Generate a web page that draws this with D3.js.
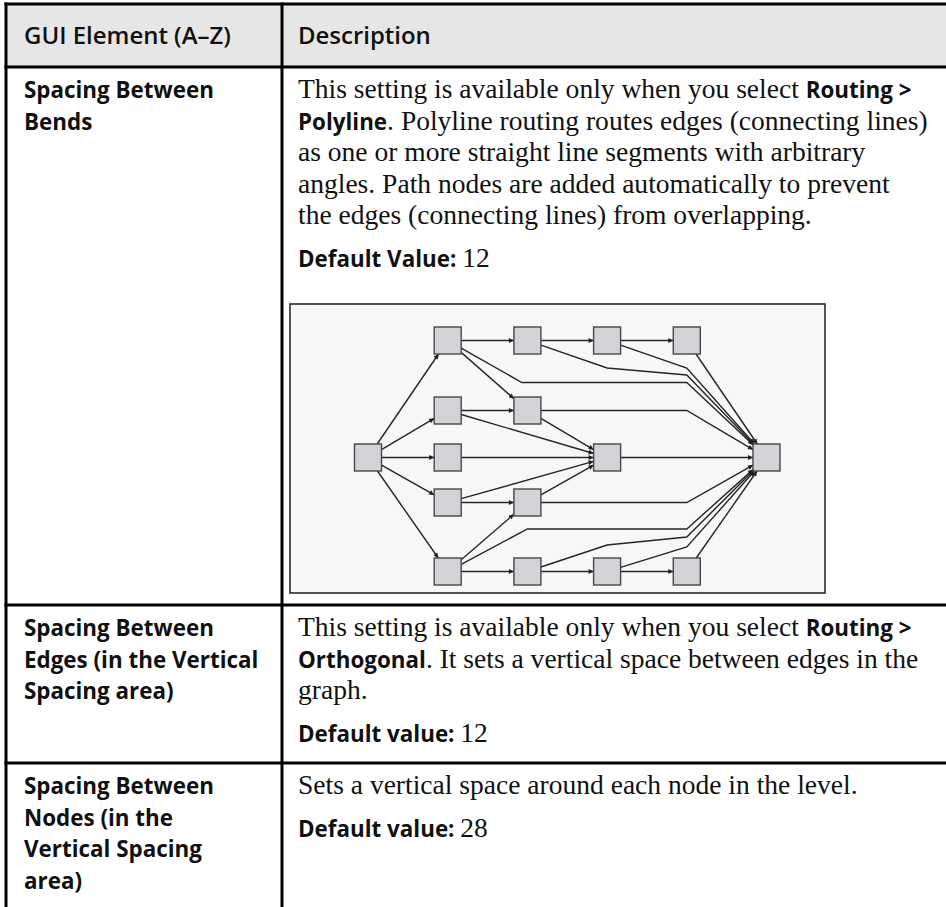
<!DOCTYPE html>
<html><head><meta charset="utf-8">
<script src="https://cdn.jsdelivr.net/npm/d3@7"></script>
<style>html,body{margin:0;padding:0;background:#fff;} svg{display:block;}</style>
</head><body>
<svg id="c" width="946" height="907"></svg>
<script>
// ---------- table content ----------
const headers = ["GUI Element (A–Z)", "Description"];
const elementNames = [
  ["Spacing Between", "Bends"],
  ["Spacing Between", "Edges (in the Vertical", "Spacing area)"],
  ["Spacing Between", "Nodes (in the", "Vertical Spacing", "area)"]
];
const descLines = [
  [
    [["This setting is available only when you select ", false], ["Routing >", true]],
    [["Polyline", true], [". Polyline routing routes edges (connecting lines)", false]],
    [["as one or more straight line segments with arbitrary", false]],
    [["angles. Path nodes are added automatically to prevent", false]],
    [["the edges (connecting lines) from overlapping.", false]]
  ],
  [
    [["This setting is available only when you select ", false], ["Routing >", true]],
    [["Orthogonal", true], [". It sets a vertical space between edges in the", false]],
    [["graph.", false]]
  ],
  [
    [["Sets a vertical space around each node in the level.", false]]
  ]
];
const defaultLabels = ["Default Value:", "Default value:", "Default value:"];
const defaultValues = [12, 12, 28];

// ---------- diagram data (column index, vertical level) ----------
const nodes = [
  {id: "a",  col: 0, lvl: 0},
  {id: "b1", col: 1, lvl: -117}, {id: "b2", col: 1, lvl: -47}, {id: "b3", col: 1, lvl: 0},
  {id: "b4", col: 1, lvl: 45},   {id: "b5", col: 1, lvl: 114},
  {id: "c1", col: 2, lvl: -117}, {id: "c2", col: 2, lvl: -47},
  {id: "c4", col: 2, lvl: 45},   {id: "c5", col: 2, lvl: 114},
  {id: "d1", col: 3, lvl: -117}, {id: "d3", col: 3, lvl: 0}, {id: "d5", col: 3, lvl: 114},
  {id: "e1", col: 4, lvl: -117}, {id: "e5", col: 4, lvl: 114},
  {id: "f",  col: 5, lvl: 0}
];
const edges = [
  ["a", "b1"], ["a", "b2"], ["a", "b3"], ["a", "b4"], ["a", "b5"],
  ["b1", "c1"], ["b1", "c2"], ["b1", "f", [[1.93, -75], [4, -75]]],
  ["c1", "d1"], ["c1", "f", [[3, -89.5], [4, -82.5]]],
  ["d1", "e1"], ["d1", "f", [[4, -89.5]]],
  ["e1", "f"],
  ["b2", "c2"], ["b2", "d3"],
  ["c2", "d3"], ["c2", "f", [[4, -47]]],
  ["b3", "d3"], ["d3", "f"],
  ["b4", "d3"], ["b4", "c4"],
  ["c4", "d3"], ["c4", "f", [[4, 45]]],
  ["b5", "c4"], ["b5", "f", [[2, 71.5], [4, 71.5]]],
  ["b5", "c5"], ["c5", "d5"], ["c5", "f", [[3, 87.5], [4, 79.5]]],
  ["d5", "e5"], ["d5", "f", [[4, 89.5]]],
  ["e5", "f"]
];

// ---------- styles ----------
const SERIF = "'Liberation Serif', 'Times New Roman', serif";
const SANS = "'Open Sans', 'Noto Sans', sans-serif";
const W = 946, H = 907;
const svg = d3.select("#c");
svg.append("rect").attr("width", W).attr("height", H).attr("fill", "#fff");

function measure(family, weight, size, text) {
  const t = svg.append("text").attr("font-family", family).attr("font-weight", weight)
    .attr("font-size", size).text(text);
  const w = t.node().getComputedTextLength();
  t.remove();
  return w;
}
const sansSize = 100 * 190 / measure(SANS, 700, 100, "Spacing Between");
const headSize = 100 * 207 / measure(SANS, 600, 100, "GUI Element (A–Z)");

// table geometry
const xLeft = 6, xDiv = 282, yTop = 4, yHead = 67;
const rowTops = [yHead, 605, 763];
const col1X = 24, col2X = 298;
const maxLineW = 928 - col2X;

// serif size: as large as the reference line 3 width, but no description line may pass maxLineW
let serifSize = 100 * 607 / measure(SERIF, 400, 100, "as one or more straight line segments with arbitrary");
descLines.flat().forEach(segs => {
  let bw = 0, sw = 0;
  segs.forEach(([s, b]) => { if (b) bw += measure(SANS, 700, sansSize, s); else sw += measure(SERIF, 400, 100, s); });
  if (sw > 0) serifSize = Math.min(serifSize, 100 * (maxLineW - bw) / sw);
});

const lineStep = 31.5, firstOff = 31, paraGap = 43;

svg.append("rect").attr("x", xLeft).attr("y", yTop).attr("width", W - xLeft).attr("height", yHead - yTop)
  .attr("fill", "#e6e6e6");

const lineG = svg.append("g").attr("stroke", "#000").attr("stroke-width", 3);
[yTop, ...rowTops].forEach(y => lineG.append("line").attr("x1", xLeft - 1.5).attr("x2", W).attr("y1", y).attr("y2", y));
[xLeft, xDiv].forEach(x => lineG.append("line").attr("x1", x).attr("x2", x).attr("y1", yTop - 1.5).attr("y2", H));

// header
svg.selectAll("text.head").data(headers).join("text").attr("class", "head")
  .attr("x", (d, i) => i === 0 ? col1X : col2X).attr("y", 44)
  .attr("font-family", SANS).attr("font-weight", 600).attr("font-size", headSize)
  .attr("fill", "#111").text(d => d);

function addLine(x, y, segs) {
  const t = svg.append("text").attr("x", x).attr("y", y).attr("fill", "#111");
  segs.forEach(([s, b]) => {
    t.append("tspan").attr("font-family", b ? SANS : SERIF).attr("font-weight", b ? 700 : 400)
      .attr("font-size", b ? sansSize : serifSize).text(s);
  });
  return t;
}

rowTops.forEach((top, r) => {
  const base = top + firstOff;
  elementNames[r].forEach((s, i) => addLine(col1X, base + i * lineStep, [[s, true]]));
  descLines[r].forEach((segs, i) => addLine(col2X, base + i * lineStep, segs));
  const dy = base + (descLines[r].length - 1) * lineStep + paraGap;
  addLine(col2X, dy, [[defaultLabels[r] + " ", true], [String(defaultValues[r]), false]]);
});

// ---------- diagram ----------
const box = {x0: 290, x1: 825, y0: 304, y1: 593};
svg.append("rect").attr("x", box.x0).attr("y", box.y0).attr("width", box.x1 - box.x0).attr("height", box.y1 - box.y0)
  .attr("fill", "#f7f7f7").attr("stroke", "#2a2a2a").attr("stroke-width", 1.6);

const xS = d3.scaleLinear().domain([0, 5]).range([368, 766.5]);
const yS = d3.scaleLinear().domain([-117, 114]).range([340.5, 571.5]);
const half = 13.5;
const byId = new Map(nodes.map(n => [n.id, n]));

const defs = svg.append("defs");
defs.append("marker").attr("id", "arr").attr("viewBox", "0 0 10 10").attr("refX", 10).attr("refY", 5)
  .attr("markerWidth", 6).attr("markerHeight", 5).attr("markerUnits", "userSpaceOnUse")
  .attr("orient", "auto")
  .append("path").attr("d", "M0,0L10,5L0,10Z").attr("fill", "#1e1e1e");

function clip(c, p) {
  const dx = p[0] - c[0], dy = p[1] - c[1];
  const t = Math.min(dx !== 0 ? half / Math.abs(dx) : Infinity, dy !== 0 ? half / Math.abs(dy) : Infinity);
  return [c[0] + t * dx, c[1] + t * dy];
}
const lineGen = d3.line();
const edgeG = svg.append("g").attr("fill", "none").attr("stroke", "#262626").attr("stroke-width", 1.4);
edges.forEach(([s, t, bends]) => {
  const a = byId.get(s), b = byId.get(t);
  const pts = [[xS(a.col), yS(a.lvl)], ...(bends || []).map(([c, l]) => [xS(c), yS(l)]), [xS(b.col), yS(b.lvl)]];
  const n = pts.length;
  const start = clip(pts[0], pts[1]);
  const end = clip(pts[n - 1], pts[n - 2]);
  const path = [start, ...pts.slice(1, n - 1), end];
  edgeG.append("path").attr("d", lineGen(path)).attr("marker-end", "url(#arr)");
});

svg.append("g").selectAll("rect").data(nodes).join("rect")
  .attr("x", d => xS(d.col) - half).attr("y", d => yS(d.lvl) - half)
  .attr("width", half * 2).attr("height", half * 2)
  .attr("fill", "#d2d3d7").attr("stroke", "#464646").attr("stroke-width", 1.4);
</script>
</body></html>
